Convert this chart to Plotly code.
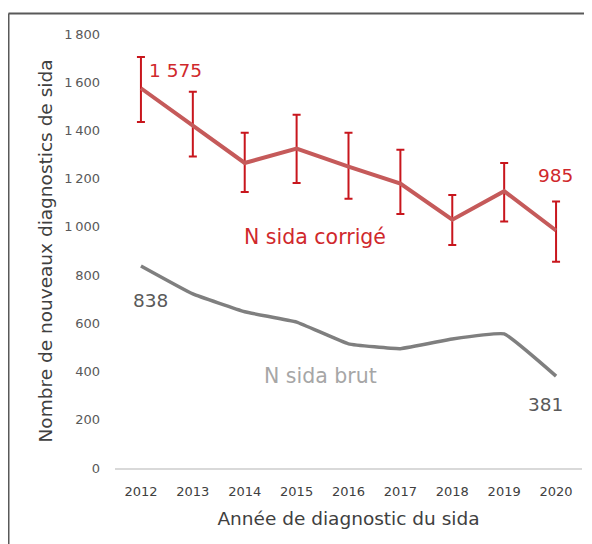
import plotly.graph_objects as go

years = ["2012", "2013", "2014", "2015", "2016", "2017", "2018", "2019", "2020"]
corrige = [1575, 1420, 1265, 1325, 1250, 1180, 1030, 1148, 985]
corrige_hi = [1705, 1560, 1390, 1465, 1390, 1320, 1132, 1265, 1105]
corrige_lo = [1435, 1292, 1145, 1182, 1117, 1053, 925, 1022, 855]
brut = [838, 722, 648, 605, 515, 495, 535, 556, 381]
yticks = [0, 200, 400, 600, 800, 1000, 1200, 1400, 1600, 1800]
yticktext = ["0", "200", "400", "600", "800", "1\u2009000", "1\u2009200", "1\u2009400", "1\u2009600", "1\u2009800"]

err_plus = [h - v for h, v in zip(corrige_hi, corrige)]
err_minus = [v - l for v, l in zip(corrige, corrige_lo)]

# page body margin offsets the figure by 8px
OFF = 8
W, H = 584, 536
ml, mr, mt, mb = 107, 10, 26, 76
pw, ph = W - ml - mr, H - mt - mb


def px(sx):
    return (sx - OFF - ml) / pw


def py(sy):
    return 1 - (sy - OFF - mt) / ph


fig = go.Figure()
fig.add_trace(go.Scatter(
    x=years, y=brut, mode="lines",
    line=dict(color="#7f7f7f", width=3.5, shape="spline", smoothing=0.3),
    showlegend=False, hoverinfo="skip",
))
fig.add_trace(go.Scatter(
    x=years, y=corrige, mode="lines",
    line=dict(color="#c55a5a", width=4),
    error_y=dict(type="data", symmetric=False, array=err_plus, arrayminus=err_minus,
                 color="#c8161d", thickness=2, width=4),
    showlegend=False, hoverinfo="skip",
))

red_txt = "#d0282c"
labels = [
    (0, corrige[0], "1 575", 35, 18, red_txt),
    (8, corrige[8], "985", -1, 55, red_txt),
    (0, brut[0], "838", 10, -35, "#595959"),
    (8, brut[8], "381", -11, -28, "#595959"),
]
annotations = []
for xi, yv, txt, xs, ys, col in labels:
    annotations.append(dict(x=xi, y=yv, xref="x", yref="y", text=txt,
                            showarrow=False, xshift=xs, yshift=ys,
                            xanchor="center", yanchor="middle",
                            font=dict(family="DejaVu Sans", size=18.5, color=col)))
annotations.append(dict(x=px(315), y=py(237), xref="paper", yref="paper", text="N sida corrigé",
                        showarrow=False, xanchor="center", yanchor="middle",
                        font=dict(family="DejaVu Sans", size=20.5, color=red_txt)))
annotations.append(dict(x=px(320), y=py(376), xref="paper", yref="paper", text="N sida brut",
                        showarrow=False, xanchor="center", yanchor="middle",
                        font=dict(family="DejaVu Sans", size=20.5, color="#a6a6a6")))

fig.update_layout(
    width=W, height=H,
    margin=dict(l=ml, r=mr, t=mt, b=mb, pad=0),
    paper_bgcolor="white", plot_bgcolor="white",
    annotations=annotations,
    xaxis=dict(
        type="category", range=[-0.5, 8.5],
        showgrid=False, zeroline=False,
        showline=True, linecolor="#d9d9d9", linewidth=2,
        ticks="", ticklabelstandoff=10,
        tickfont=dict(family="DejaVu Sans", size=13, color="#404040"),
        title=dict(text="Année de diagnostic du sida", standoff=14,
                   font=dict(family="DejaVu Sans", size=18.5, color="#404040")),
    ),
    yaxis=dict(
        range=[0, 1800], tickvals=yticks, ticktext=yticktext,
        showgrid=False, zeroline=False, showline=False, ticks="",
        ticklabelstandoff=14,
        tickfont=dict(family="DejaVu Sans", size=13, color="#595959"),
        title=dict(text="Nombre de nouveaux diagnostics de sida", standoff=6,
                   font=dict(family="DejaVu Sans", size=18.5, color="#404040")),
    ),
    shapes=[
        dict(type="line", xref="paper", yref="paper",
             x0=px(8.5), x1=px(600), y0=py(13.5), y1=py(13.5),
             line=dict(color="#595959", width=2)),
        dict(type="line", xref="paper", yref="paper",
             x0=px(8.5), x1=px(8.5), y0=py(13.5), y1=py(560),
             line=dict(color="#595959", width=2)),
    ],
)

fig.write_html("out.html")
